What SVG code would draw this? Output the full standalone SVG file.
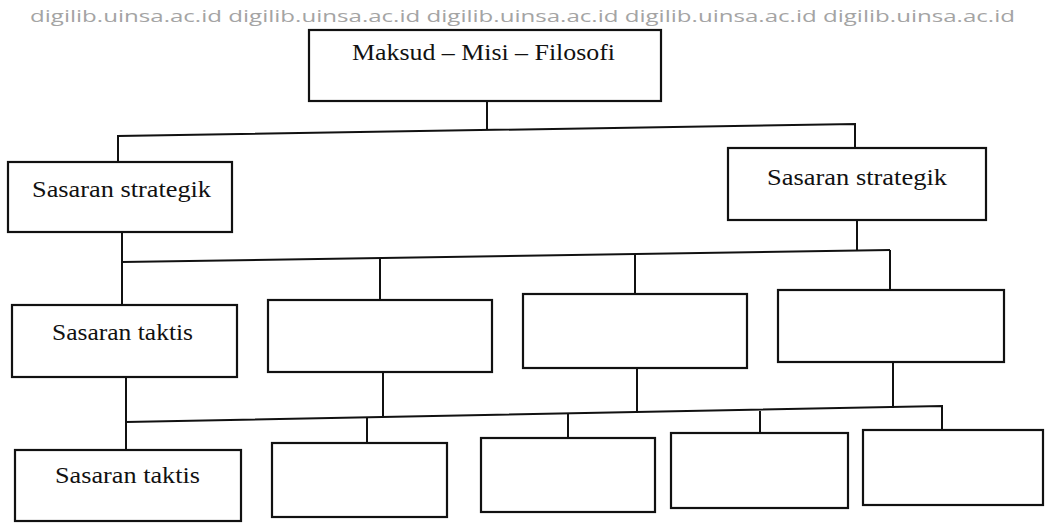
<svg xmlns="http://www.w3.org/2000/svg" width="1046" height="523" viewBox="0 0 1046 523">
  <style>
    .box { fill: #ffffff; stroke: #111111; stroke-width: 2.2; }
    .wire { fill: none; stroke: #111111; stroke-width: 2; }
    .lbl { font-family: "Liberation Serif", "DejaVu Serif", serif; font-size: 24px; fill: #111111; }
    .mark { font-family: "Open Sans", "Liberation Sans", sans-serif; font-size: 17px; fill: #a4a4a4; }
  </style>
  <rect width="1046" height="523" fill="#ffffff"/>

  <!-- repository watermark line -->
  <text class="mark" x="30" y="22" textLength="985" lengthAdjust="spacingAndGlyphs">digilib.uinsa.ac.id digilib.uinsa.ac.id digilib.uinsa.ac.id digilib.uinsa.ac.id digilib.uinsa.ac.id</text>

  <!-- connectors -->
  <g id="connectors">
    <path class="wire" d="M487,101 V130"/>
    <path class="wire" d="M118,162 V136 L855,124 V148"/>
    <path class="wire" d="M122,232 V262"/>
    <path class="wire" d="M857,220 V250"/>
    <path class="wire" d="M122,262 L890,250"/>
    <path class="wire" d="M122,262 V306"/>
    <path class="wire" d="M380,258 V301"/>
    <path class="wire" d="M635,254 V295"/>
    <path class="wire" d="M890,250 V290"/>
    <path class="wire" d="M126,377 V422"/>
    <path class="wire" d="M383,372 V417"/>
    <path class="wire" d="M637,368 V413"/>
    <path class="wire" d="M893,362 V408"/>
    <path class="wire" d="M126,422 L942,406 V430"/>
    <path class="wire" d="M126,422 V450"/>
    <path class="wire" d="M367,418 V443"/>
    <path class="wire" d="M568,414 V438"/>
    <path class="wire" d="M760,411 V433"/>
  </g>

  <!-- level 0 -->
  <g id="n-maksud">
    <rect class="box" x="309" y="30" width="352" height="71"/>
    <text class="lbl" x="352" y="60" textLength="263" lengthAdjust="spacingAndGlyphs">Maksud – Misi – Filosofi</text>
  </g>

  <!-- level 1 -->
  <g id="n-strategik-1">
    <rect class="box" x="8" y="162" width="224" height="70"/>
    <text class="lbl" x="32" y="197" textLength="179" lengthAdjust="spacingAndGlyphs">Sasaran strategik</text>
  </g>
  <g id="n-strategik-2">
    <rect class="box" x="728" y="148" width="258" height="72"/>
    <text class="lbl" x="767" y="185" textLength="180" lengthAdjust="spacingAndGlyphs">Sasaran strategik</text>
  </g>

  <!-- level 2 -->
  <g id="n-taktis-1">
    <rect class="box" x="12" y="305" width="225" height="72"/>
    <text class="lbl" x="52" y="340" textLength="141" lengthAdjust="spacingAndGlyphs">Sasaran taktis</text>
  </g>
  <g id="n-l2-b">
    <rect class="box" x="268" y="300" width="224" height="72"/>
  </g>
  <g id="n-l2-c">
    <rect class="box" x="523" y="294" width="224" height="74"/>
  </g>
  <g id="n-l2-d">
    <rect class="box" x="778" y="290" width="226" height="72"/>
  </g>

  <!-- level 3 -->
  <g id="n-taktis-2">
    <rect class="box" x="15" y="450" width="226" height="71"/>
    <text class="lbl" x="55" y="483" textLength="145" lengthAdjust="spacingAndGlyphs">Sasaran taktis</text>
  </g>
  <g id="n-l3-b">
    <rect class="box" x="272" y="443" width="175" height="74"/>
  </g>
  <g id="n-l3-c">
    <rect class="box" x="481" y="438" width="174" height="74"/>
  </g>
  <g id="n-l3-d">
    <rect class="box" x="671" y="433" width="177" height="75"/>
  </g>
  <g id="n-l3-e">
    <rect class="box" x="863" y="430" width="180" height="75"/>
  </g>
</svg>
